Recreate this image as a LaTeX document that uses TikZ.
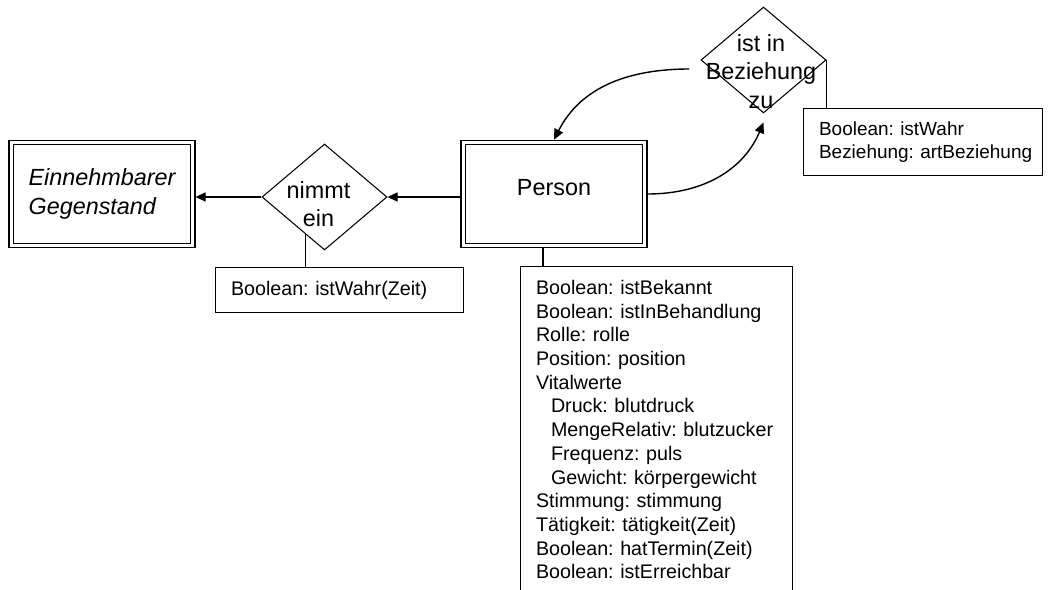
\documentclass[tikz,border=0pt]{standalone}
\usepackage{fontspec}
\setmainfont{Liberation Sans}
\usetikzlibrary{shapes.geometric, arrows.meta, positioning}
\frenchspacing

\begin{document}
\begin{tikzpicture}[
    entity/.style={draw, double, double distance=1.95pt, line width=0.6pt, outer sep=1.6pt,
                   minimum width=3.63cm, minimum height=2.06cm, inner sep=0pt,
                   font=\fontsize{13.3}{16.2}\selectfont},
    rel/.style={draw, diamond, line width=0.6pt, minimum width=2.5cm, minimum height=2.12cm, inner sep=0pt},
    reltext/.style={align=center, inner sep=0pt, font=\fontsize{13.3}{16.2}\selectfont},
    attr/.style={draw, line width=0.6pt, anchor=north west, align=left,
                 inner xsep=0.31cm, inner ysep=0.27cm, font=\fontsize{11.2}{13.5}\selectfont},
    link/.style={line width=0.6pt},
    arr/.style={-{Triangle[length=5.7pt,width=5.2pt]}, line width=0.6pt},
    curvearr/.style={-{Triangle[length=6pt,width=5.4pt]}, line width=0.8pt}
  ]
  \useasboundingbox (0,0) rectangle (21.02,-11.78);
  \clip (0,0) rectangle (21.02,-11.78);

  % entities and relations
  \node[entity, align=left, font=\fontsize{13.3}{16.2}\selectfont\itshape] (einn) at (2.04,-3.88)
    {Einnehmbarer\\Gegenstand};
  \node[rel] (nimmt) at (6.49,-3.94) {};
  \node[reltext] (nimmtT) at ([xshift=-0.12cm, yshift=-0.14cm]nimmt.center) {nimmt\\ein};
  \node[entity, text depth=0.28cm] (person) at (11.08,-3.88) {Person};
  \node[rel] (bez) at (15.27,-1.2) {};
  \node[reltext] (bezT) at ([xshift=-0.05cm, yshift=-0.23cm]bez.center) {ist in\\Beziehung\\zu};

  % attributes
  \node[attr, text width=4.34cm] (attrN) at (4.3,-5.34) {Boolean: istWahr(Zeit)};
  \node[attr, text width=4.16cm, font=\fontsize{10.8}{12.9}\selectfont] (attrB) at (16.06,-2.16)
    {Boolean: istWahr\\\mbox{Beziehung: artBeziehung}};
  \node[attr, text width=4.82cm] (attrP) at (10.4,-5.32) {Boolean: istBekannt\\
    Boolean: istInBehandlung\\
    Rolle: rolle\\
    Position: position\\
    Vitalwerte\\
    \hspace*{0.3cm}Druck: blutdruck\\
    \hspace*{0.3cm}MengeRelativ: blutzucker\\
    \hspace*{0.3cm}Frequenz: puls\\
    \hspace*{0.3cm}Gewicht: körpergewicht\\
    Stimmung: stimmung\\
    Tätigkeit: tätigkeit(Zeit)\\
    Boolean: hatTermin(Zeit)\\
    Boolean: istErreichbar};

  % connectors
  \draw[arr] (nimmt.west) -- (nimmt.west -| einn.east);
  \draw[arr] (nimmt.east -| person.west) -- (nimmt.east);
  \draw[link] (nimmt.243) -- (nimmt.243 |- attrN.north);
  \draw[link] ([xshift=-0.22cm]person.south) -- ([xshift=-0.22cm]person.south |- attrP.north);
  \draw[link] (bez.east) -- (bez.east |- attrB.north);
  \draw[curvearr] ([xshift=-0.22cm, yshift=-0.18cm]bez.west) to[out=180, in=63] (person.north);
  \draw[curvearr] (person.east) to[out=0, in=247] ([yshift=-0.18cm]bez.south);
\end{tikzpicture}
\end{document}
